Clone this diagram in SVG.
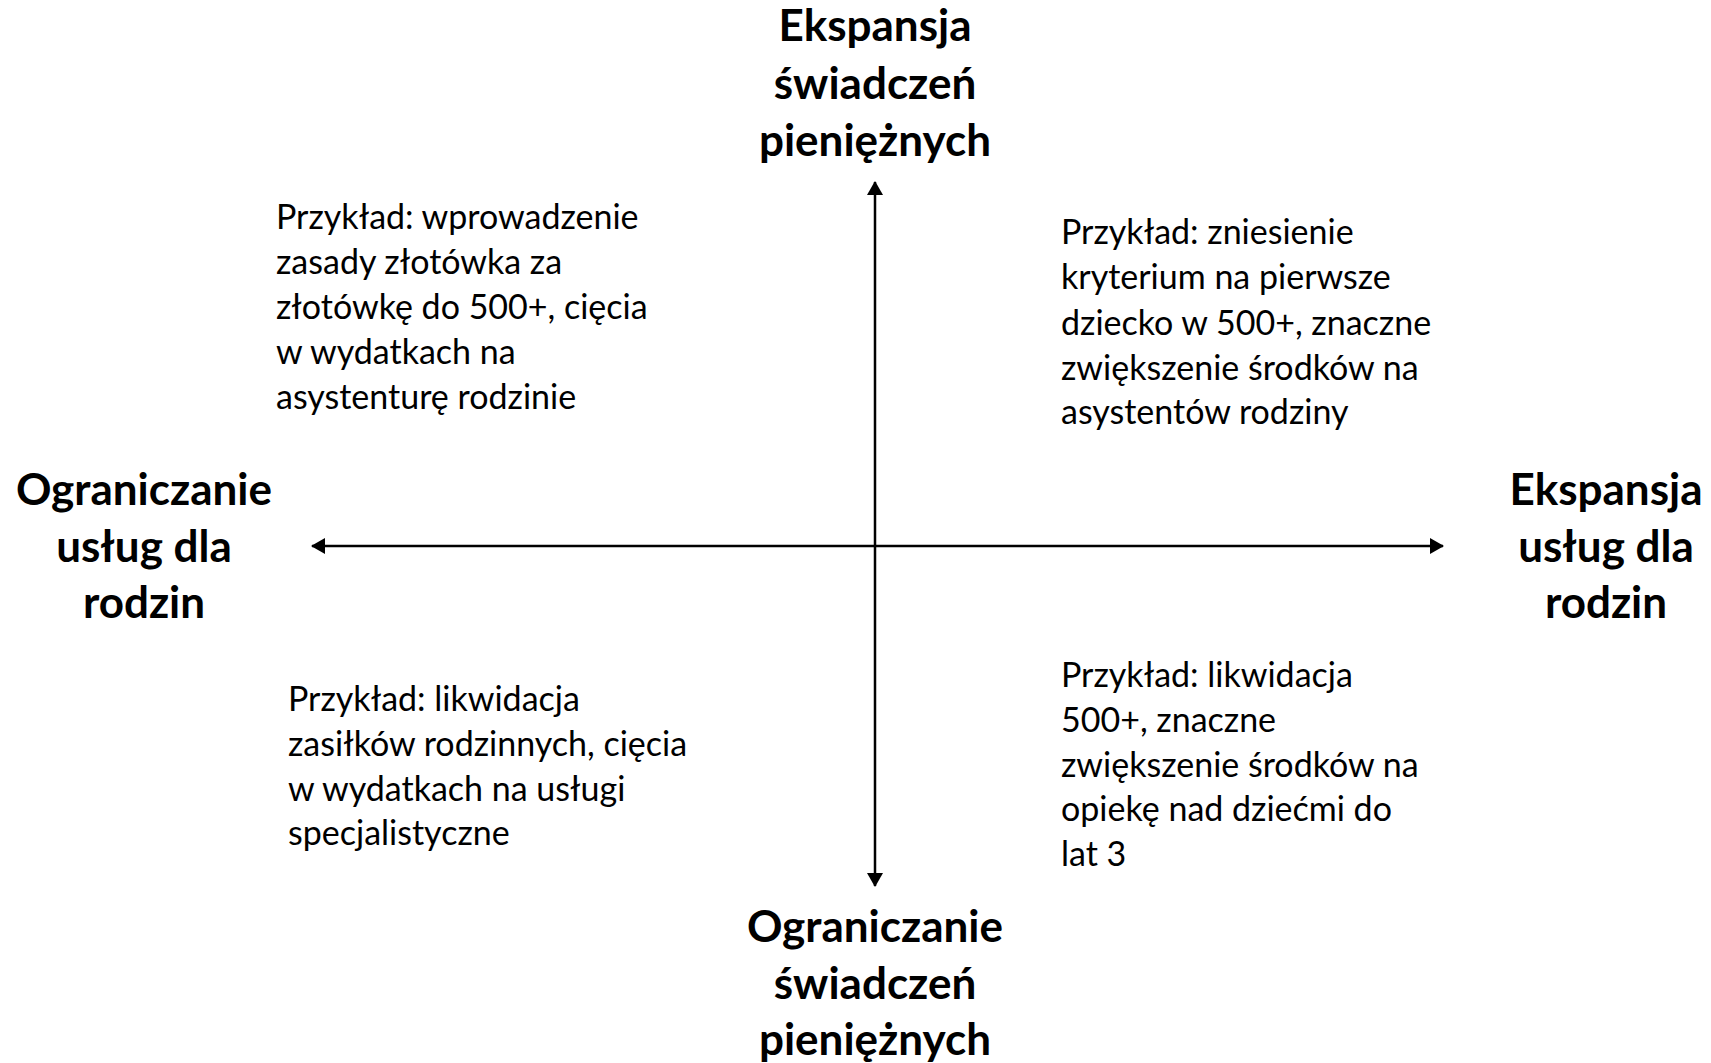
<svg xmlns="http://www.w3.org/2000/svg" width="1711" height="1063" viewBox="0 0 1711 1063">
<style>
.lbl{font-family:"Lato","Liberation Sans",sans-serif;font-weight:bold;font-size:44px;fill:#000;text-anchor:middle}
.txt{font-family:"Lato","Liberation Sans",sans-serif;font-size:34px;fill:#000}
.ax{stroke:#000;stroke-width:2.5;fill:none}
</style>
<defs>
<marker id="ah" viewBox="0 0 14 16" refX="13" refY="8" markerWidth="14" markerHeight="16" markerUnits="userSpaceOnUse" orient="auto-start-reverse">
<path d="M0,0 L14,8 L0,16 Z" fill="#000"/>
</marker>
</defs>
<rect width="1711" height="1063" fill="#fff"/>
<g id="connectors">
<line class="ax" x1="875" y1="886" x2="875" y2="182" marker-start="url(#ah)" marker-end="url(#ah)"/>
<line class="ax" x1="312" y1="546" x2="1443" y2="546" marker-start="url(#ah)" marker-end="url(#ah)"/>
</g>
<g id="top-label"><text class="lbl" x="875" y="41">Ekspansja</text><text class="lbl" x="875" y="99">świadczeń</text><text class="lbl" x="875" y="156">pieniężnych</text></g>
<g id="bottom-label"><text class="lbl" x="875" y="942">Ograniczanie</text><text class="lbl" x="875" y="999">świadczeń</text><text class="lbl" x="875" y="1055">pieniężnych</text></g>
<g id="left-label"><text class="lbl" x="144" y="505">Ograniczanie</text><text class="lbl" x="144" y="562">usług dla</text><text class="lbl" x="144" y="618">rodzin</text></g>
<g id="right-label"><text class="lbl" x="1606" y="505">Ekspansja</text><text class="lbl" x="1606" y="562">usług dla</text><text class="lbl" x="1606" y="618">rodzin</text></g>
<g id="q-top-left"><text class="txt" x="276" y="229">Przykład: wprowadzenie</text><text class="txt" x="276" y="274">zasady złotówka za</text><text class="txt" x="276" y="319">złotówkę do 500+, cięcia</text><text class="txt" x="276" y="364">w wydatkach na</text><text class="txt" x="276" y="409">asystenturę rodzinie</text></g>
<g id="q-top-right"><text class="txt" x="1061" y="244">Przykład: zniesienie</text><text class="txt" x="1061" y="289">kryterium na pierwsze</text><text class="txt" x="1061" y="335">dziecko w 500+, znaczne</text><text class="txt" x="1061" y="380">zwiększenie środków na</text><text class="txt" x="1061" y="424">asystentów rodziny</text></g>
<g id="q-bottom-left"><text class="txt" x="288" y="711">Przykład: likwidacja</text><text class="txt" x="288" y="756">zasiłków rodzinnych, cięcia</text><text class="txt" x="288" y="801">w wydatkach na usługi</text><text class="txt" x="288" y="845">specjalistyczne</text></g>
<g id="q-bottom-right"><text class="txt" x="1061" y="687">Przykład: likwidacja</text><text class="txt" x="1061" y="732">500+, znaczne</text><text class="txt" x="1061" y="777">zwiększenie środków na</text><text class="txt" x="1061" y="821">opiekę nad dziećmi do</text><text class="txt" x="1061" y="866">lat 3</text></g>
</svg>
